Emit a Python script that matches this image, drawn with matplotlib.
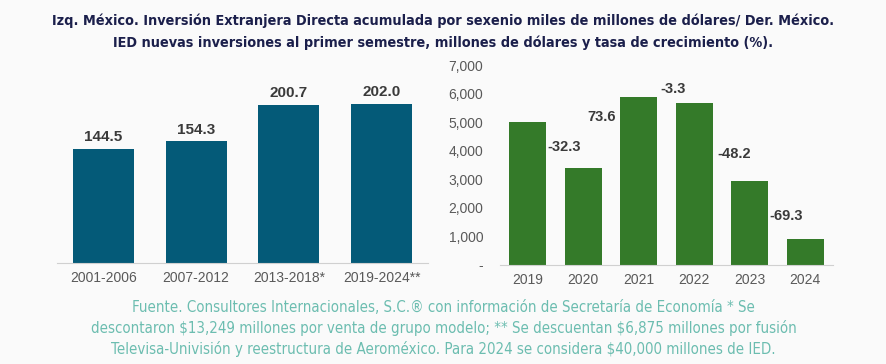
import matplotlib.pyplot as plt
from matplotlib.ticker import FuncFormatter

# Left: IED acumulada por sexenio (miles de millones de dolares)
periodos = ['2001-2006', '2007-2012', '2013-2018*', '2019-2024**']
ied_sexenio = [144.5, 154.3, 200.7, 202.0]

# Right: IED nuevas inversiones primer semestre (millones de dolares)
anios = ['2019', '2020', '2021', '2022', '2023', '2024']
ied_semestre = [5010, 3390, 5885, 5690, 2950, 905]
tasa = ['-32.3', '73.6', '-3.3', '-48.2', '-69.3']

titulo = ('Izq. México. Inversión Extranjera Directa acumulada por sexenio miles de millones de dólares/ Der. México.\n'
          'IED nuevas inversiones al primer semestre, millones de dólares y tasa de crecimiento (%).')
fuente = ('Fuente. Consultores Internacionales, S.C.® con información de Secretaría de Economía * Se\n'
          'descontaron \\$13,249 millones por venta de grupo modelo; ** Se descuentan \\$6,875 millones por fusión\n'
          'Televisa-Univisión y reestructura de Aeroméxico. Para 2024 se considera \\$40,000 millones de IED.')

plt.rcParams['font.family'] = ['Liberation Sans', 'DejaVu Sans']
bg = '#fafafa'
fig = plt.figure(figsize=(8.87, 3.64), dpi=100, facecolor=bg)

fig.text(0.5, 0.962, titulo, ha='center', va='top', fontsize=10.4, fontweight='bold',
         color='#1b1f4b', linespacing=1.6, family='DejaVu Sans', fontstretch='condensed')
fig.text(0.5, 0.176, fuente, ha='center', va='top', fontsize=10.8, color='#6cbdb0',
         linespacing=1.38, family='DejaVu Sans', fontstretch='condensed')

# left chart
ax1 = fig.add_axes([0.0643, 0.2775, 0.4182, 0.541], facecolor=bg)
x1 = range(len(periodos))
ax1.bar(x1, ied_sexenio, width=0.66, color='#045a78')
for i, v in enumerate(ied_sexenio):
    ax1.text(i, v + 6, f'{v:.1f}', ha='center', va='bottom', fontsize=11,
             fontweight='bold', color='#3a3a3a')
ax1.set_xlim(-0.5, 3.5)
ax1.set_ylim(0, 250)
ax1.set_xticks(list(x1))
ax1.set_xticklabels(periodos, fontsize=10, color='#595959')
ax1.set_yticks([])
ax1.tick_params(axis='x', length=0, pad=6)
for s in ['top', 'right', 'left']:
    ax1.spines[s].set_visible(False)
ax1.spines['bottom'].set_color('#d0d0d0')

# right chart
ax2 = fig.add_axes([0.5637, 0.272, 0.3754, 0.549], facecolor=bg)
x2 = range(len(anios))
ax2.bar(x2, ied_semestre, width=0.67, color='#347a29')
ax2.set_xlim(-0.5, 5.5)
ax2.set_ylim(0, 7000)
ax2.set_yticks(range(0, 7001, 1000))
ax2.yaxis.set_major_formatter(FuncFormatter(lambda v, p: '-' if v == 0 else f'{v:,.0f}'))
ax2.set_xticks(list(x2))
ax2.set_xticklabels(anios)
ax2.tick_params(length=0, labelsize=10, labelcolor='#595959', pad=6)
ax2.tick_params(axis='y', pad=12)
for s in ['top', 'right', 'left']:
    ax2.spines[s].set_visible(False)
ax2.spines['bottom'].set_color('#d0d0d0')

# growth labels placed in the gaps between bars
lab_x = [0.66, 1.34, 2.62, 3.72, 4.66]
lab_y = [4130, 5180, 6160, 3885, 1715]
for t, lx, ly in zip(tasa, lab_x, lab_y):
    ax2.text(lx, ly, t, ha='center', va='center', fontsize=10.5, fontweight='bold',
             color='#3a3a3a')

plt.savefig('out.png', dpi=100, facecolor=bg)
